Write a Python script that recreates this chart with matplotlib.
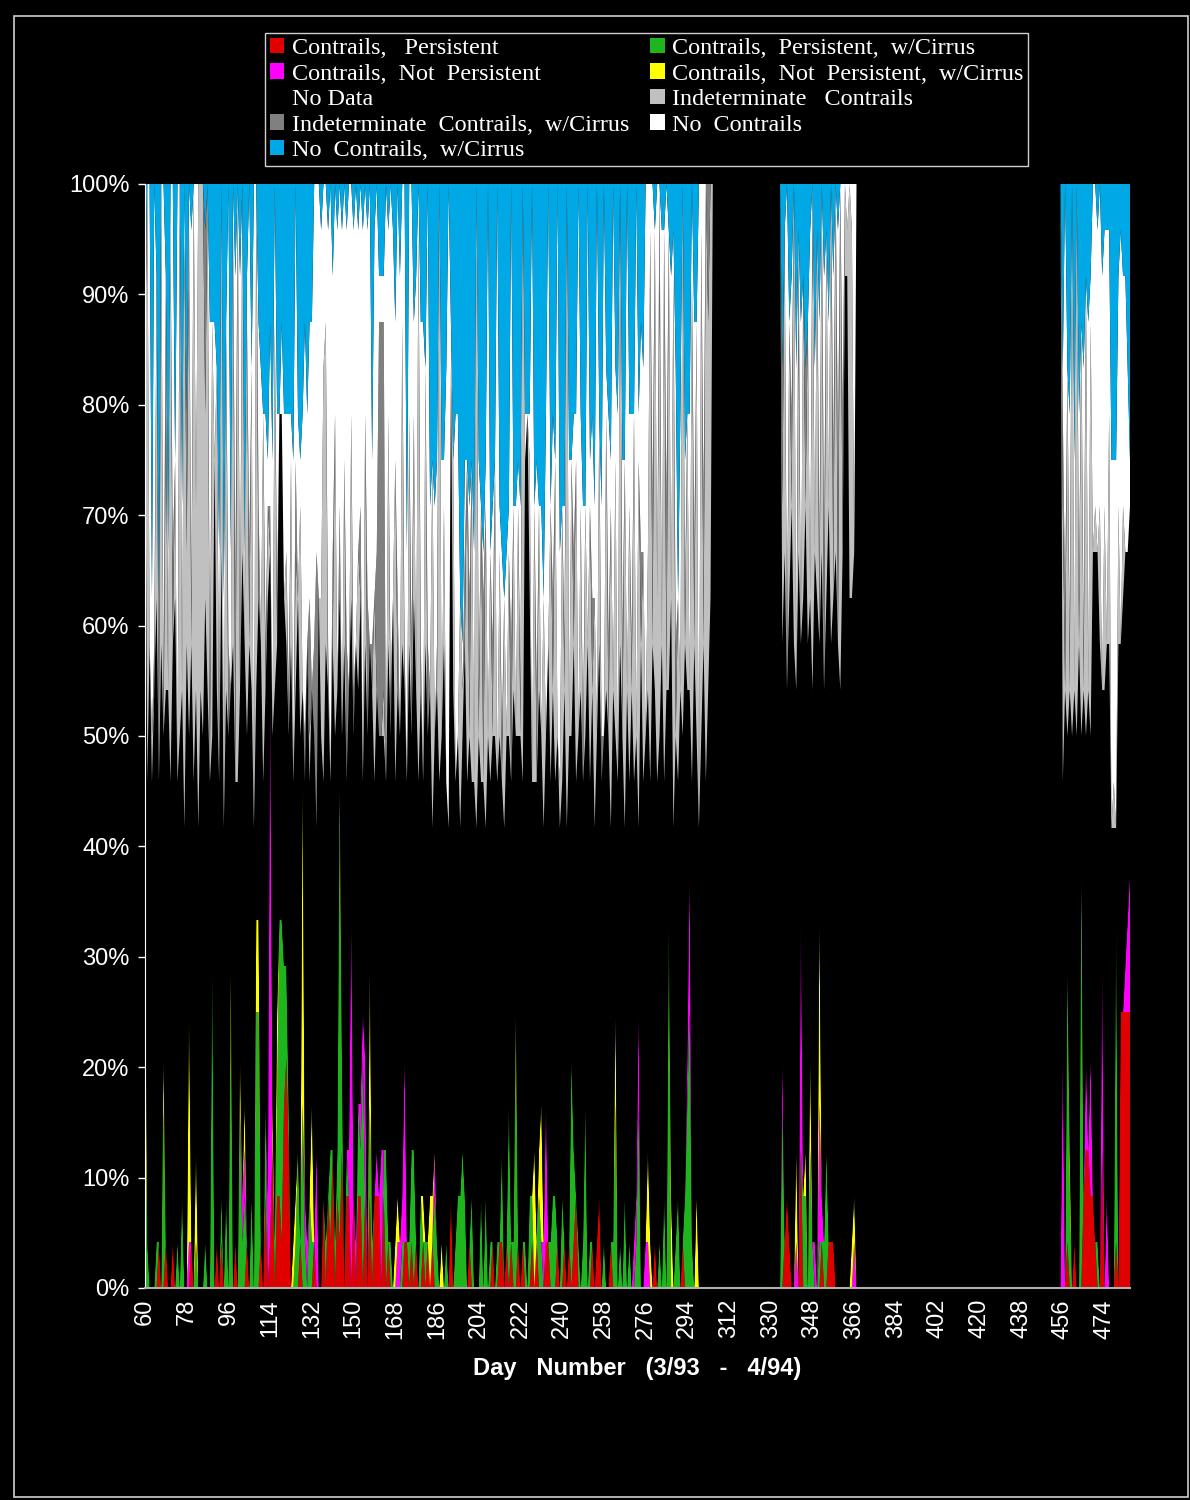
"""100% stacked daily contrail observation shares, day 60 (3/93) to day 485 (4/94)."""

import matplotlib
matplotlib.use("Agg")
import matplotlib.pyplot as plt
from matplotlib.patches import Patch, Rectangle
import numpy as np


# observed stretches of the record: (first day, number of days)
SEGMENTS = [(60, 245), (335, 32), (456, 30)]
FIRST_DAY, LAST_DAY = 60, 485
OBS_PER_DAY = 24  # hourly observations per day

LABELS = [
    "Contrails,   Persistent",
    "Contrails,  Persistent,  w/Cirrus",
    "Contrails,  Not  Persistent",
    "Contrails,  Not  Persistent,  w/Cirrus",
    "No Data",
    "Indeterminate   Contrails",
    "Indeterminate  Contrails,  w/Cirrus",
    "No  Contrails",
    "No  Contrails,  w/Cirrus",
]
COLORS = ["#e00000", "#1fb51f", "#ff00ff", "#ffff00", "#000000",
          "#c0c0c0", "#808080", "#ffffff", "#00a9e6"]

X_TICKS = list(range(60, 475, 18))
Y_TICKS = list(range(0, 101, 10))

# hourly counts per day; segment 1 (days 60-304), segment 2 (335-366), segment 3 (456-485)
persistent = [
    0,0,0,0,0,0,1,0,0,1, 0,0,1,0,0,0,0,0,0,0, 1,0,0,0,0,0,0,0,0,0, 0,1,0,1,0,0,0,0,0,1,
    0,0,0,0,1,0,0,0,0,0, 1,0,2,0,1,3,0,2,2,1, 4,5,3,0,0,0,0,1,0,0, 0,0,0,1,0,0,0,2,0,2,
    1,3,0,2,1,3,0,2,2,0, 2,0,2,2,0,2,0,2,0,2, 2,2,0,2,0,1,0,0,0,0, 0,0,1,1,0,1,0,1,0,0,
    1,0,1,0,1,0,0,0,0,0, 0,0,2,0,0,0,0,0,0,0, 1,0,0,0,0,0,0,0,0,0, 1,0,0,1,1,0,1,0,1,0,
    0,1,0,1,0,0,0,1,0,1, 0,0,0,1,1,0,0,0,1,0, 0,1,0,1,0,1,2,0,0,0, 0,0,0,1,0,1,2,0,0,0,
    0,1,0,0,0,0,0,0,0,0, 0,0,0,0,0,0,0,0,0,0, 1,0,0,0,0,0,0,0,0,0, 0,0,1,0,0,0,0,0,0,0,
    0,0,0,0,0,
    0,1,2,1,0,0,0,0,3,0, 0,0,0,0,0,0,0,1,0,0, 1,1,1,0,0,0,0,0,0,0, 0,0,
    0,0,1,0,0,1,0,0,0,2, 3,3,2,2,1,0,0,3,0,0, 0,0,0,1,0,6,6,6,6,6,
]
persistent_cirrus = [
    4,1,0,0,0,1,0,0,4,0, 0,0,0,0,1,0,2,0,0,0, 0,0,1,0,0,0,1,0,0,7, 0,0,0,1,0,2,0,6,0,0,
    0,4,1,2,0,0,2,0,6,6, 0,0,2,0,0,0,1,2,6,7, 3,2,1,0,0,1,3,0,4,1, 0,2,1,0,0,0,0,0,1,0,
    2,0,1,1,9,2,0,1,0,0, 0,0,2,1,5,0,0,2,1,0, 0,0,0,1,3,0,1,0,0,0, 0,1,0,0,1,2,3,0,0,2,
    0,1,0,0,0,2,1,0,0,0, 1,0,0,0,1,2,2,3,2,0, 0,2,0,0,0,2,0,2,0,1, 0,0,1,0,2,0,0,4,0,1,
    5,0,0,0,1,0,2,1,0,0, 2,1,0,0,0,1,2,2,0,0, 2,0,0,0,5,2,0,1,0,1, 4,0,1,0,0,0,0,0,1,0,
    0,0,1,4,0,1,0,2,0,1, 0,0,1,4,0,0,0,0,0,0, 0,0,1,0,2,0,8,0,0,1, 2,0,0,2,4,6,1,0,0,0,
    0,0,0,0,0,
    4,0,0,0,0,0,0,0,0,2, 2,0,3,1,0,0,1,0,1,3, 0,0,0,0,0,0,0,0,0,0, 0,0,
    0,0,6,2,0,0,0,0,8,0, 0,0,0,0,0,1,0,0,0,0, 0,0,0,7,0,0,0,0,0,0,
]
not_persistent = [
    0,0,0,0,0,0,0,0,0,0, 0,0,0,0,0,0,0,0,0,1, 0,0,0,0,0,0,0,0,0,0, 0,0,0,0,0,0,0,0,0,0,
    0,0,1,1,0,0,0,0,0,0, 0,0,0,2,12,0,0,0,0,0, 0,0,0,0,0,0,0,0,0,1, 1,0,0,0,3,0,0,0,0,0,
    0,0,0,0,0,0,0,0,1,8, 0,1,0,1,1,3,0,0,0,0, 1,0,3,0,0,0,0,0,0,1, 1,1,4,0,0,0,0,0,0,0,
    0,0,0,0,0,1,0,0,0,0, 0,0,0,0,0,0,0,0,0,0, 0,0,0,0,0,0,0,0,0,0, 0,0,0,0,0,0,0,0,0,0,
    0,0,0,0,0,0,0,0,0,0, 0,0,1,3,0,0,0,0,0,0, 0,0,0,0,0,0,0,0,0,0, 0,0,0,0,0,0,0,0,0,0,
    0,0,0,0,0,0,0,0,0,0, 0,1,1,2,0,0,1,1,0,0, 0,0,0,0,0,0,0,0,0,0, 0,0,0,0,1,3,0,0,0,0,
    0,0,0,0,0,
    1,0,0,0,0,0,1,0,5,0, 0,0,0,0,1,0,3,1,0,0, 0,0,0,0,0,0,0,0,0,0, 0,1,
    5,0,0,0,0,0,0,0,0,0, 2,0,3,0,0,0,0,4,0,2, 0,0,0,0,0,0,0,1,2,3,
]
not_persistent_cirrus = [
    4,0,0,0,0,0,0,0,1,0, 0,0,0,0,0,0,0,0,0,5, 0,0,2,0,0,0,0,0,0,0, 0,0,0,0,0,0,0,1,0,0,
    0,1,0,1,0,0,0,0,2,2, 0,0,0,0,0,1,0,2,0,0, 0,0,0,0,1,1,0,0,7,0, 0,0,3,0,0,0,0,0,0,0,
    0,0,0,0,1,0,0,0,0,0, 0,0,0,0,0,0,0,3,0,0, 0,0,0,0,0,0,0,0,1,1, 0,0,0,0,0,0,0,0,0,0,
    1,0,0,2,1,0,0,0,1,0, 0,0,0,0,0,0,0,0,0,0, 0,0,0,0,0,0,0,0,0,0, 0,0,0,0,0,0,0,0,0,0,
    1,0,0,0,0,0,0,0,3,0, 1,3,0,0,0,0,0,0,0,0, 0,0,0,0,0,0,0,0,0,0, 0,0,0,0,0,0,0,0,0,0,
    0,0,0,2,0,0,0,0,0,0, 0,0,0,0,0,0,0,2,1,0, 0,0,0,0,0,0,0,2,0,0, 0,0,0,0,0,0,0,0,2,0,
    0,0,0,0,0,
    0,0,0,0,0,0,2,0,0,0, 1,0,2,0,0,0,4,0,0,0, 0,0,0,0,0,0,0,0,0,0, 1,1,
    0,0,0,1,0,0,0,0,1,0, 0,0,0,0,0,0,0,0,0,0, 0,0,0,0,0,0,0,0,0,0,
]
no_data = [
    12,10,14,11,13,14,10,14,7,12, 13,11,13,15,10,12,11,10,14,6, 13,11,10,10,13,12,14,13,11,5,
    18,12,11,14,10,11,12,6,14,10, 11,8,14,10,11,14,11,10,5,7, 13,11,9,13,3,8,12,8,11,11,
    8,7,8,14,10,11,12,11,2,9, 13,9,9,11,7,15,12,9,13,11, 8,11,11,10,4,7,14,8,10,7,
    10,13,9,11,5,9,12,7,12,9, 10,10,9,9,8,13,11,15,10,11, 11,12,8,10,13,9,12,12,11,11,
    9,13,11,11,8,9,12,11,11,14, 10,10,18,13,10,10,8,9,12,11, 11,9,11,10,12,9,11,8,12,10,
    11,12,10,11,8,10,11,8,10,12, 6,11,12,10,17,19,13,9,8,10, 10,8,9,8,13,10,11,9,11,10,
    9,12,10,11,7,11,9,11,13,10, 8,14,10,12,10,11,12,11,11,13, 12,9,12,6,11,13,12,8,13,10,
    13,10,10,4,14,11,11,10,10,14, 12,11,11,14,9,13,5,13,10,11, 9,13,11,12,8,4,10,14,10,10,
    12,14,11,13,15,
    9,15,11,14,17,14,10,16,6,13, 14,14,10,12,15,15,6,14,12,12, 16,13,14,16,14,13,16,22,22,15,
    14,14,
    6,13,5,10,12,12,12,14,3,11, 7,10,7,14,15,15,14,6,13,12, 14,10,10,2,14,8,9,9,8,8,
]
indeterminate = [
    0,13,0,1,0,7,0,10,0,6, 0,12,0,3,0,11,0,13,2,11, 0,13,4,14,11,12,4,11,0,9, 0,7,0,8,0,8,0,0,9,0,
    13,0,8,0,9,0,7,0,11,0, 0,8,0,2,0,0,8,0,0,0, 0,2,0,4,0,3,0,5,0,0, 0,1,0,0,0,0,3,9,7,0,
    0,0,7,0,0,0,4,0,0,4, 0,0,3,0,0,5,0,0,0,4, 0,0,0,1,0,5,0,0,7,0, 0,7,0,0,5,0,4,0,12,0,
    0,6,0,0,8,0,0,13,0,3, 0,0,0,5,0,0,5,1,0,7, 0,7,0,14,0,6,0,7,0,5, 0,6,0,4,0,5,0,4,0,4,
    0,5,0,13,0,0,3,0,6,0, 4,0,5,0,0,6,0,7,0,1, 6,0,14,0,6,0,7,0,4,0, 5,0,6,0,5,0,5,0,0,6,
    0,7,0,6,0,10,0,8,0,6, 0,8,0,8,0,5,0,3,12,0, 10,4,10,0,12,0,10,0,12,0, 4,0,12,0,6,0,11,0,9,0,
    11,0,13,8,9,
    3,7,0,6,0,10,0,5,0,7, 0,7,0,10,0,8,0,8,0,8, 0,10,0,8,0,11,0,2,1,9, 8,0,
    6,0,8,0,12,0,12,0,9,0, 10,0,9,0,1,0,3,0,4,0, 5,0,1,0,3,0,2,0,0,0,
]
indeterminate_cirrus = [
    2,0,0,0,1,0,3,0,1,3, 0,0,2,0,0,1,0,0,3,0, 1,0,0,0,0,0,4,0,2,0, 0,0,1,0,0,0,2,0,0,4,
    0,1,0,0,0,2,0,0,0,2, 0,0,1,0,1,0,0,1,0,0, 0,0,1,0,0,2,0,0,0,1, 0,3,0,2,6,0,0,0,0,1,
    0,2,0,0,2,0,0,3,0,0, 1,0,0,2,0,0,3,0,1,0, 3,9,9,8,0,0,1,0,0,2, 0,0,1,0,0,2,0,0,0,1,
    0,0,2,0,0,0,1,0,0,0, 0,0,0,0,0,0,0,0,2,0, 3,0,0,0,1,0,4,0,0,0, 2,0,0,0,1,0,0,0,3,0,
    0,0,1,0,0,0,0,0,0,2, 0,0,0,0,0,0,2,0,0,0, 0,1,0,0,0,2,0,0,0,1, 0,0,0,2,0,0,0,1,0,0,
    2,0,0,0,0,0,2,0,0,0, 1,0,0,0,2,0,0,0,0,3, 0,0,2,0,0,4,0,0,0,2, 0,0,0,1,0,0,0,2,0,0,
    0,3,0,3,0,
    3,0,1,0,2,0,0,2,0,0, 3,0,0,1,0,0,2,0,3,0, 0,0,3,0,4,0,3,0,0,0, 0,0,
    2,2,0,1,0,0,0,1,0,1, 0,0,0,0,0,0,0,0,0,0, 0,0,0,0,0,0,0,0,0,0,
]
no_contrails = [
    0,0,10,3,10,0,1,0,11,0, 3,1,8,0,13,0,4,1,0,1, 8,0,7,0,0,0,0,0,8,0, 3,0,4,0,5,0,10,3,1,7,
    0,8,0,2,1,8,0,14,0,4, 6,0,5,1,4,6,3,4,0,2, 4,3,6,1,7,6,4,1,6,9, 5,6,8,10,8,9,8,4,3,9,
    13,6,5,10,7,11,6,9,11,5, 10,10,7,7,12,5,8,10,4,8, 8,1,1,1,13,4,11,8,3,9, 10,3,10,5,5,10,2,9,1,7,
    10,0,10,4,0,5,4,0,6,1, 9,14,1,0,8,7,0,1,2,0, 2,0,5,0,5,0,1,1,12,0, 3,0,13,1,4,0,4,1,10,0,
    5,1,4,0,1,0,1,13,0,5, 0,5,0,7,10,0,4,0,12,5, 0,3,0,6,0,3,1,12,2,5, 0,10,1,4,2,12,0,5,12,1,
    5,1,11,2,8,0,4,0,11,2, 5,0,12,1,5,4,12,8,1,7, 0,9,0,9,0,7,0,7,1,6, 0,6,0,3,0,6,2,5,0,14,
    1,7,0,0,0,
    0,0,10,0,3,0,7,0,7,0, 0,0,8,0,4,0,5,0,6,0, 4,0,4,0,5,0,5,0,1,0, 1,8,
    1,9,0,5,0,5,0,4,0,6, 0,8,1,8,7,7,7,9,6,9, 4,8,7,8,5,9,5,6,4,1,
]
no_contrails_cirrus = [
    2,0,0,9,0,2,9,0,0,2, 8,0,0,6,0,0,7,0,5,0, 1,0,0,0,0,0,1,0,3,3, 3,4,8,0,9,3,0,8,0,2,
    0,2,0,8,2,0,4,0,0,3, 4,5,5,6,3,6,0,5,5,3, 5,5,5,5,6,0,5,6,5,3, 5,3,3,0,0,0,1,0,0,1,
    0,2,0,1,0,1,0,1,0,0, 1,0,1,0,1,0,1,0,6,1, 0,2,2,2,0,1,0,1,3,0, 2,0,0,8,0,0,3,2,0,3,
    3,4,0,7,6,7,6,0,6,6, 4,0,3,6,5,5,9,10,6,6, 7,6,8,0,6,7,8,6,0,8, 7,6,0,7,8,9,8,7,0,7,
    7,6,7,0,5,5,5,0,7,6, 7,7,9,5,0,7,5,6,0,8, 7,7,0,6,6,5,5,0,5,7, 7,0,6,5,7,0,5,7,0,4,
    5,6,0,4,5,0,6,6,0,5, 5,5,0,5,3,4,0,0,0,0, 1,0,0,1,1,0,1,2,1,4, 9,5,0,6,5,5,0,3,3,0,
    0,0,0,0,0,
    4,1,0,3,2,0,4,1,3,2, 4,3,1,0,4,1,3,0,2,1, 3,0,2,0,1,0,0,0,0,0, 0,0,
    4,0,4,5,0,6,0,5,3,4, 2,3,2,0,0,1,0,2,1,1, 1,6,6,6,2,1,2,2,4,6,
]

ALL_SERIES = [persistent, persistent_cirrus, not_persistent, not_persistent_cirrus,
              no_data, indeterminate, indeterminate_cirrus, no_contrails,
              no_contrails_cirrus]


def build_shares():
    days = np.arange(FIRST_DAY, LAST_DAY + 1)
    counts = np.zeros((len(ALL_SERIES), days.size))
    counts[4] = OBS_PER_DAY  # days outside the segments: nothing observed
    for k, series in enumerate(ALL_SERIES):
        pos = 0
        for start, n in SEGMENTS:
            i0 = start - FIRST_DAY
            counts[k, i0:i0 + n] = series[pos:pos + n]
            pos += n
    return days, counts / counts.sum(axis=0) * 100


def main():
    days, shares = build_shares()

    W, H = 1190, 1500
    fig = plt.figure(figsize=(W / 100, H / 100), dpi=100, facecolor="black")
    fig.patches.append(Rectangle((14 / W, 3 / H), 1174 / W, 1481 / H,
                                 transform=fig.transFigure, facecolor="none",
                                 edgecolor="#d0d0d0", lw=1.2))

    ax = fig.add_axes([145 / W, 1 - 1288 / H, 985 / W, 1104 / H], facecolor="black")
    ax.stackplot(days, shares, colors=COLORS, linewidth=0)

    ax.set_xlim(FIRST_DAY, LAST_DAY)
    ax.set_ylim(0, 100)
    ax.set_xticks(X_TICKS)
    ax.set_xticklabels([str(t) for t in X_TICKS], rotation=90)
    ax.set_yticks(Y_TICKS)
    ax.set_yticklabels([f"{t}%" for t in Y_TICKS])
    ax.tick_params(axis="x", length=0, pad=8, colors="white", labelsize=17)
    ax.tick_params(axis="y", length=5, width=1, pad=6, colors="white", labelsize=17)
    for lab in ax.get_xticklabels() + ax.get_yticklabels():
        lab.set_family(["Liberation Sans", "DejaVu Sans"])
    for side in ("top", "right"):
        ax.spines[side].set_visible(False)
    ax.spines["left"].set_color("white")
    ax.spines["bottom"].set_color("#b0b0b0")
    ax.spines["bottom"].set_linewidth(1.5)

    fig.text(637 / W, 1 - 1368 / H, "Day   Number   (3/93   -   4/94)",
             ha="center", va="center", color="white", fontsize=17,
             fontweight="bold", family=["Liberation Sans Narrow", "Liberation Sans"])

    handles = [Patch(facecolor=c, edgecolor="none") for c in COLORS]
    order = [0, 2, 4, 6, 8, 1, 3, 5, 7]  # fill the two columns row by row
    leg = fig.legend([handles[i] for i in order], [LABELS[i] for i in order],
                     loc="upper left",
                     bbox_to_anchor=(265 / W, 1 - 166 / H, 763 / W, 133 / H),
                     mode="expand", ncol=2, frameon=True, fancybox=False,
                     facecolor="black", edgecolor="#d0d0d0", framealpha=1,
                     prop={"family": "Liberation Serif", "size": 17.4},
                     handlelength=0.6, handleheight=0.6, handletextpad=0.3,
                     labelspacing=0.18, borderpad=0.2, borderaxespad=0,
                     columnspacing=1.0)
    leg.get_frame().set_linewidth(1.0)
    for t in leg.get_texts():
        t.set_color("white")

    fig.savefig("out.png", dpi=100, facecolor=fig.get_facecolor())
    plt.close(fig)


if __name__ == "__main__":
    main()
